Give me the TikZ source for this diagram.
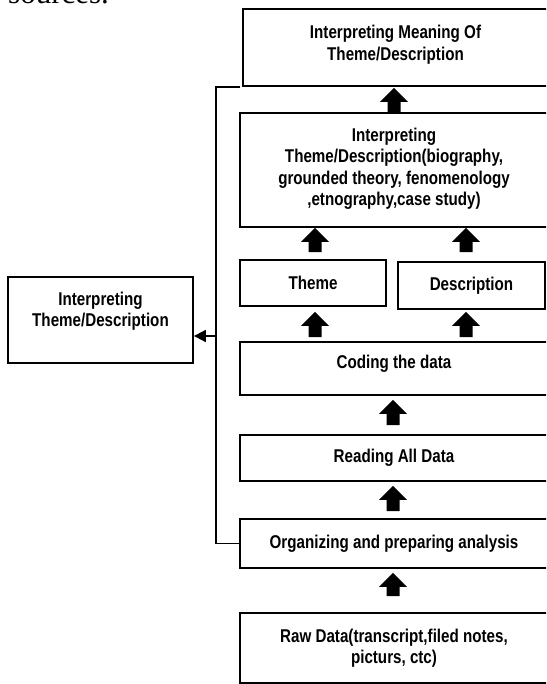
\documentclass[tikz,border=0pt]{standalone}
\usepackage{fontspec}
\setmainfont{Liberation Serif}
\newfontfamily\diagfont{Liberation Sans}[FakeStretch=0.82]
\usetikzlibrary{arrows.meta,calc}
\tikzset{
  box/.style={draw, line width=1.8pt, rectangle, inner sep=0pt, anchor=center},
  txt/.style={font={\diagfont\bfseries\fontsize{18.5pt}{21.5pt}\selectfont}, align=center, inner sep=0pt, anchor=center},
  conn/.style={line width=1.7pt},
  blockfill/.style={fill=black}
}
% #1 = base point (gives x), #2 = tip point (gives y)
\newcommand\blockup[2]{%
  \fill[blockfill] let \p1=(#1), \p2=(#2) in
    (\x1-6.5pt,\y1) -- (\x1-6.5pt,\y2-14pt) -- (\x1-14pt,\y2-14pt) -- (\x1,\y2)
    -- (\x1+14pt,\y2-14pt) -- (\x1+6.5pt,\y2-14pt) -- (\x1+6.5pt,\y1) -- cycle;}
\begin{document}
\begin{tikzpicture}[x=1pt,y=-1pt]
\useasboundingbox (0,0) rectangle (546,684);
\clip (0,0) rectangle (546,684);

% partially visible text from the page above
\node[anchor=base west, inner sep=0pt, font=\fontsize{31pt}{31pt}\selectfont] (src) at (8pt,-4pt) {sources.};

% boxes
\node[box, minimum width=305pt, minimum height=77pt]  (top)     at (395.5,47.5) {};
\node[box, minimum width=308pt, minimum height=114pt] (box2)    at (394,170) {};
\node[box, minimum width=146pt, minimum height=46pt]  (theme)   at (313,283) {};
\node[box, minimum width=147pt, minimum height=47pt]  (desc)    at (471.5,285.5) {};
\node[box, minimum width=308pt, minimum height=53pt]  (coding)  at (394,368.5) {};
\node[box, minimum width=308pt, minimum height=46pt]  (reading) at (394,458) {};
\node[box, minimum width=308pt, minimum height=49pt]  (org)     at (394,543.5) {};
\node[box, minimum width=308pt, minimum height=70pt]  (raw)     at (394,648) {};
\node[box, minimum width=185pt, minimum height=86pt]  (left)    at (100.5,320) {};

% texts
\node[txt] (topt)     at ([yshift=3pt]top.center) {Interpreting Meaning Of\\Theme/Description};
\node[txt] (box2t)    at ([yshift=1pt]box2.center) {Interpreting\\Theme/Description(biography,\\grounded theory, fenomenology\\,etnography,case study)};
\node[txt] (themet)   at (theme.center) {Theme};
\node[txt] (desct)    at (desc.center) {Description};
\node[txt] (codingt)  at ([yshift=4.5pt]coding.center) {Coding the data};
\node[txt] (readingt) at (reading.center) {Reading All Data};
\node[txt] (orgt)     at (org.center) {Organizing and preparing analysis};
\node[txt] (rawt)     at (raw.center) {Raw Data(transcript,filed notes,\\picturs, ctc)};
\node[txt] (leftt)    at ([yshift=9pt]left.center) {Interpreting\\Theme/Description};

% block arrows
\blockup{box2.north}{[yshift=-1pt]top.south}
\blockup{[xshift=2pt,yshift=7pt]theme.north}{box2.south}
\blockup{[xshift=-5.5pt,yshift=9pt]desc.north}{box2.south}
\blockup{[xshift=2pt,yshift=4pt]theme.south |- coding.north}{[yshift=-5pt]theme.south}
\blockup{[xshift=-5.5pt,yshift=4pt]desc.south |- coding.north}{[yshift=-2pt]desc.south}
\blockup{[xshift=-1pt,yshift=9pt]reading.north}{[yshift=-4pt]coding.south}
\blockup{[xshift=-1pt,yshift=7pt]org.north}{[yshift=-4pt]reading.south}
\blockup{[xshift=-1pt,yshift=16pt]raw.north}{[yshift=-4pt]org.south}

% feedback connector
\coordinate (jend) at (240,87);
\coordinate (jt) at (216,87);
\coordinate (jl) at (216,336);
\draw[conn] (jend) -- (jt) -- (jt |- org.west) -- (org.west);
\draw[conn, -{Triangle[length=12pt,width=12pt]}] (jl) -- (jl -| left.east);
\end{tikzpicture}
\end{document}
